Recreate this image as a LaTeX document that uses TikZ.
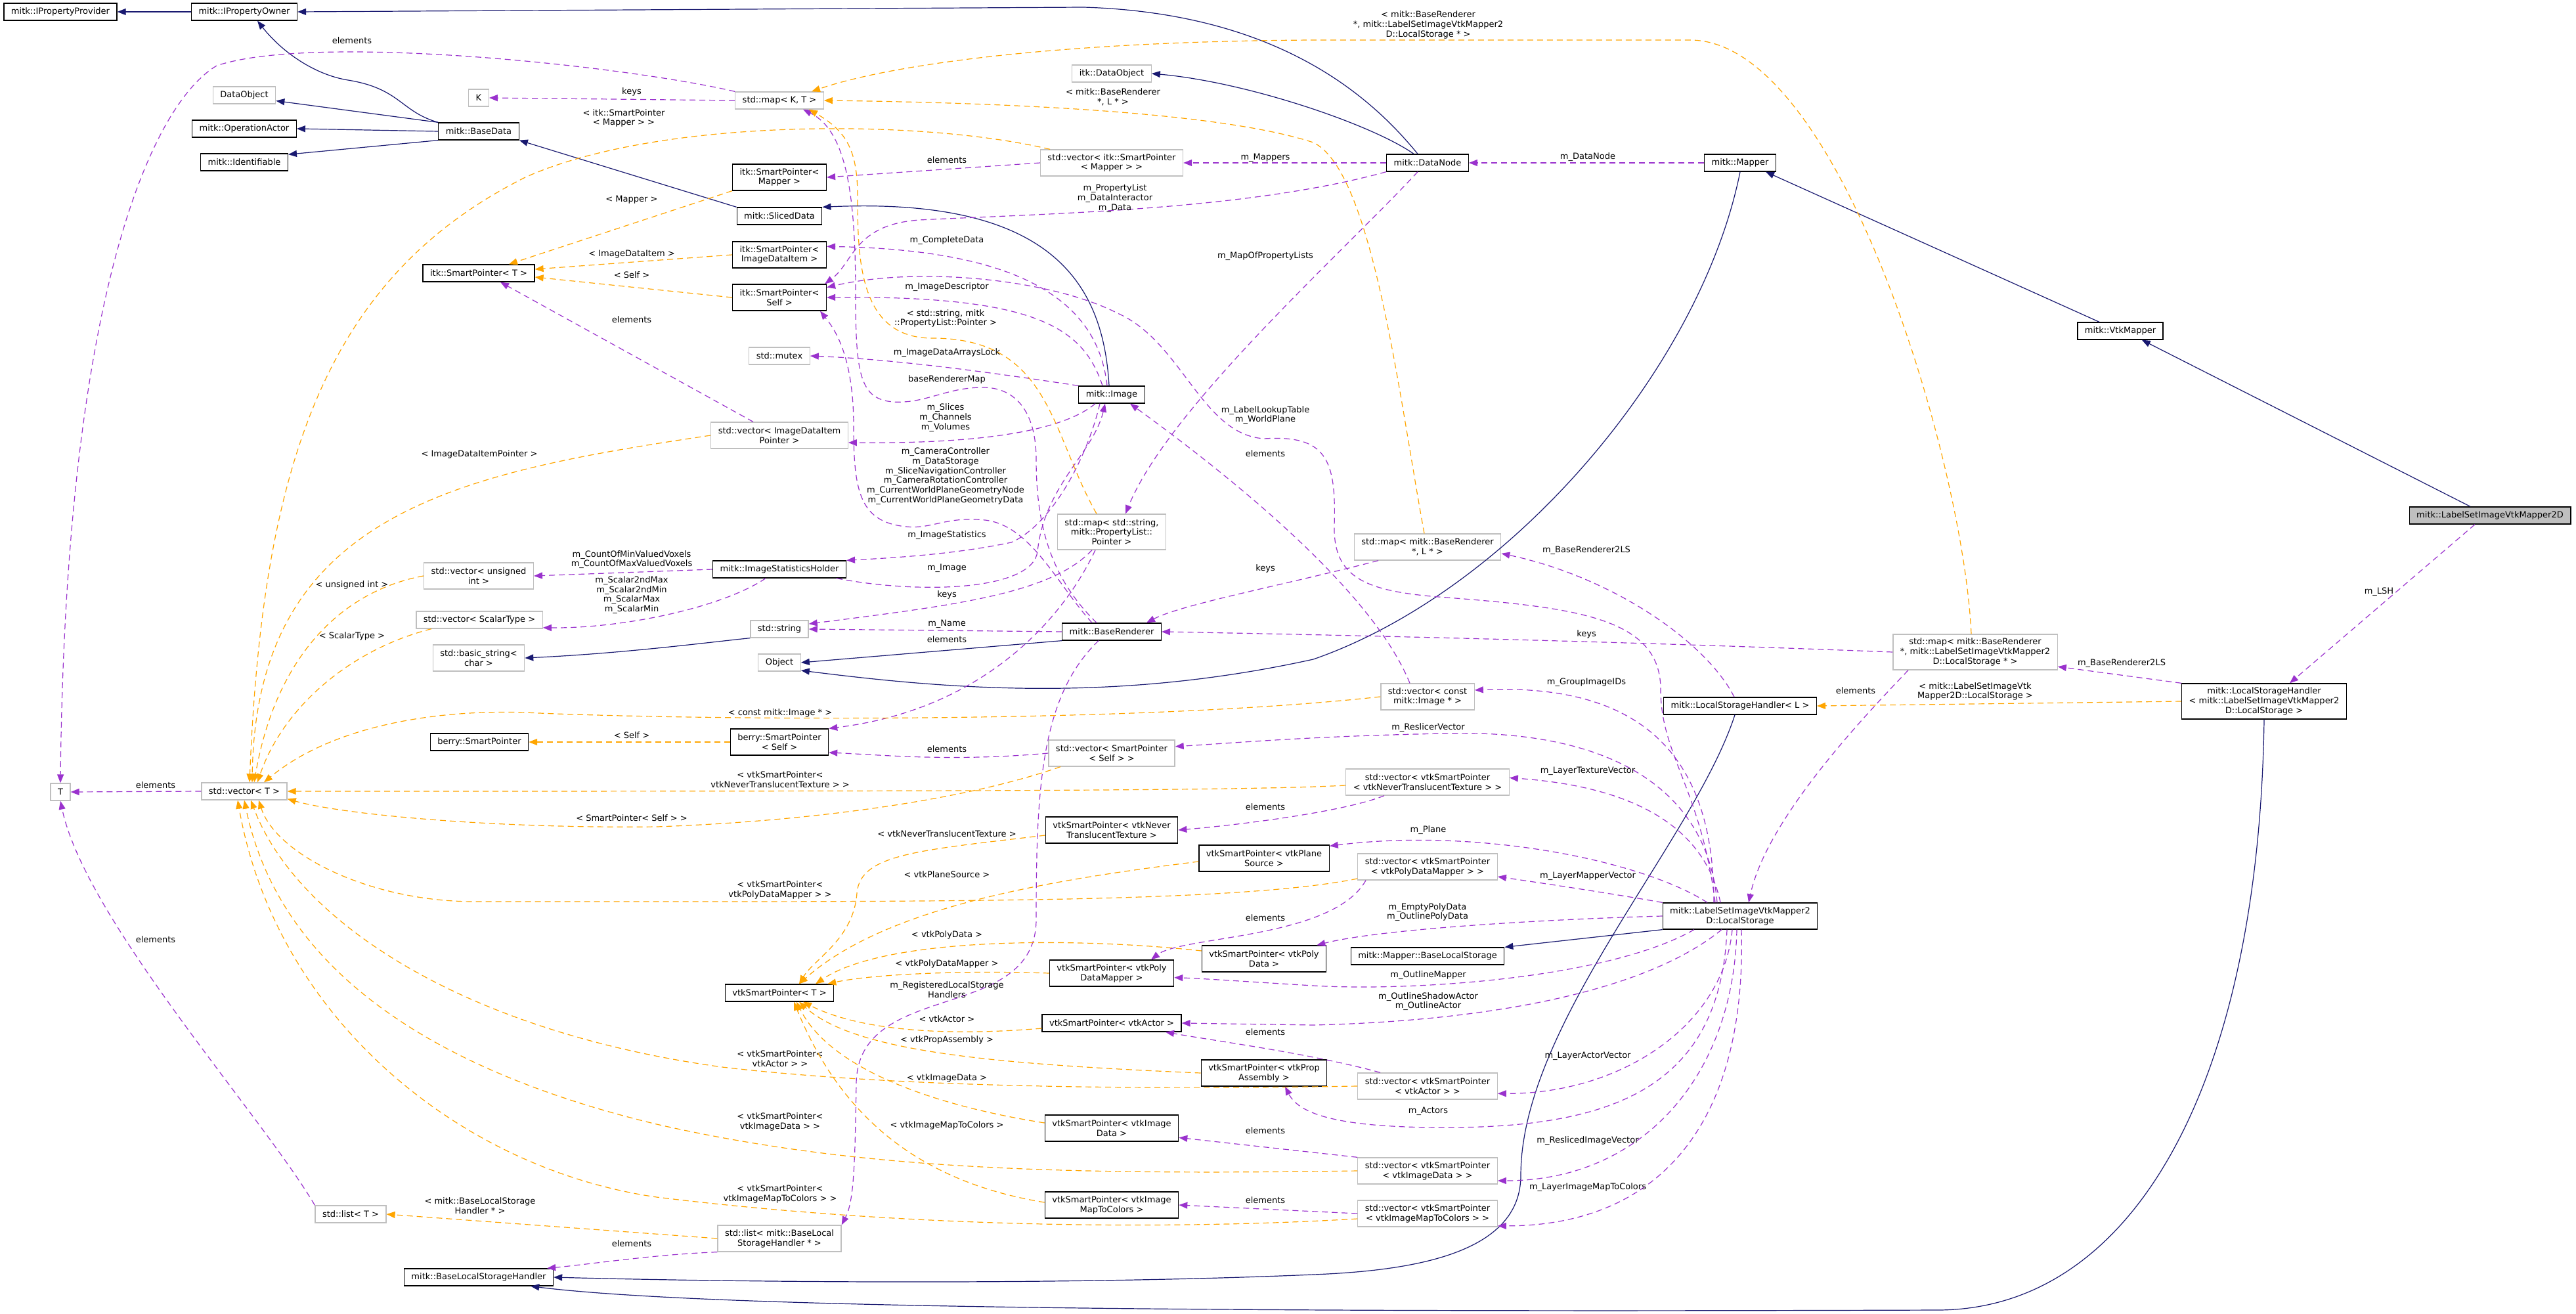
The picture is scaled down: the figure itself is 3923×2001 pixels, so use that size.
\documentclass[tikz,border=0pt]{standalone}
\usepackage{fontspec}
\setmainfont{DejaVu Sans}
\usepackage{tikz}
\usetikzlibrary{arrows.meta}

\definecolor{inhblue}{HTML}{191970}
\definecolor{usepurple}{HTML}{9A32CD}
\definecolor{tmplorange}{HTML}{FFA500}
\definecolor{boxgrey}{HTML}{BFBFBF}

\begin{document}
\begin{tikzpicture}[
    x=1pt, y=-1pt,
    font=\fontsize{13}{14.8}\selectfont,
    box/.style={rectangle, draw=black, line width=1.3pt, fill=white, align=center, inner xsep=11pt, inner ysep=3pt, minimum height=26pt},
    greybox/.style={box, draw=boxgrey},
    tall2/.style={minimum height=40pt},
    tall3/.style={minimum height=54pt},
    lbl/.style={align=center, inner sep=0pt},
    inh/.style={draw=inhblue, line width=1.2pt, -{Triangle[length=13pt, width=10pt]}},
    usage/.style={draw=usepurple, line width=1.2pt, dash pattern=on 9pt off 6pt, -{Triangle[length=13pt, width=10pt]}},
    tmpl/.style={draw=tmplorange, line width=1.2pt, dash pattern=on 9pt off 6pt, -{Triangle[length=13pt, width=10pt]}},
]
\useasboundingbox (0,0) rectangle (3923,2001);

% Column 1
\node[box] (ipp) at (92,18) {mitk::IPropertyProvider};
\node[greybox] (nodeT) at (92,1206) {T};

% Column 2
\node[box] (ipo) at (372,18) {mitk::IPropertyOwner};
\node[greybox] (dobj) at (372,145) {DataObject};
\node[box] (opact) at (372,196) {mitk::OperationActor};
\node[box] (ident) at (372,247) {mitk::Identifiable};
\node[greybox] (vecT) at (372,1205) {std::vector< T >};
\node[greybox] (listT) at (534,1849) {std::list< T >};

% Column 3
\node[greybox] (keyK) at (729,149) {K};
\node[box] (basedata) at (729,200) {mitk::BaseData};
\node[box] (itksp) at (729,416) {itk::SmartPointer< T >};
\node[greybox, tall2] (vecuint) at (729,877) {std::vector< unsigned\\int >};
\node[greybox] (vecscalar) at (730,944) {std::vector< ScalarType >};
\node[greybox, tall2] (bstring) at (729,1002) {std::basic\_string<\\char >};
\node[box] (berrysp) at (730,1130) {berry::SmartPointer};
\node[box] (blsh) at (729,1945) {mitk::BaseLocalStorageHandler};

% Column 4
\node[greybox] (mapKT) at (1187,153) {std::map< K, T >};
\node[box, tall2] (spmapper) at (1187,270) {itk::SmartPointer<\\Mapper >};
\node[box] (sliced) at (1187,329) {mitk::SlicedData};
\node[box, tall2] (spitem) at (1187,388) {itk::SmartPointer<\\ImageDataItem >};
\node[box, tall2] (spself) at (1187,453) {itk::SmartPointer<\\Self >};
\node[greybox] (mutex) at (1187,542) {std::mutex};
\node[greybox, tall2] (vecitem) at (1187,663) {std::vector< ImageDataItem\\Pointer >};
\node[box] (statholder) at (1187,867) {mitk::ImageStatisticsHolder};
\node[greybox] (stdstring) at (1187,958) {std::string};
\node[greybox] (object) at (1187,1009) {Object};
\node[box, tall2] (berryself) at (1187,1130) {berry::SmartPointer\\< Self >};
\node[box] (vtkT) at (1187,1512) {vtkSmartPointer< T >};
\node[greybox, tall2] (listblsh) at (1187,1886) {std::list< mitk::BaseLocal\\StorageHandler * >};

% Column 5
\node[greybox] (itkdobj) at (1693,112) {itk::DataObject};
\node[greybox, tall2] (vecmapper) at (1693,248) {std::vector< itk::SmartPointer\\< Mapper > >};
\node[box] (image) at (1693,601) {mitk::Image};
\node[greybox, tall3] (mapprop) at (1693,810) {std::map< std::string,\\mitk::PropertyList::\\Pointer >};
\node[box] (renderer) at (1693,962) {mitk::BaseRenderer};
\node[greybox, tall2] (vecself) at (1693,1147) {std::vector< SmartPointer\\< Self > >};
\node[box, tall2] (vtktex) at (1693,1264) {vtkSmartPointer< vtkNever\\TranslucentTexture >};
\node[box, tall2] (vtkpdm) at (1693,1482) {vtkSmartPointer< vtkPoly\\DataMapper >};
\node[box] (vtkactor) at (1693,1558) {vtkSmartPointer< vtkActor >};
\node[box, tall2] (vtkimg) at (1693,1718) {vtkSmartPointer< vtkImage\\Data >};
\node[box, tall2] (vtkmap) at (1693,1835) {vtkSmartPointer< vtkImage\\MapToColors >};
\node[box, tall2] (vtkplane) at (1925,1307) {vtkSmartPointer< vtkPlane\\Source >};
\node[box, tall2] (vtkpd) at (1925,1460) {vtkSmartPointer< vtkPoly\\Data >};
\node[box, tall2] (vtkprop) at (1925,1634) {vtkSmartPointer< vtkProp\\Assembly >};

% Column 6
\node[box] (datanode) at (2174,248) {mitk::DataNode};
\node[greybox, tall2] (maprl) at (2174,833) {std::map< mitk::BaseRenderer\\*, L * >};
\node[greybox, tall2] (vecimg) at (2174,1061) {std::vector< const\\mitk::Image * >};
\node[greybox, tall2] (vectex) at (2174,1191) {std::vector< vtkSmartPointer\\< vtkNeverTranslucentTexture > >};
\node[greybox, tall2] (vecpdm) at (2174,1320) {std::vector< vtkSmartPointer\\< vtkPolyDataMapper > >};
\node[box] (basels) at (2174,1456) {mitk::Mapper::BaseLocalStorage};
\node[greybox, tall2] (vecactor) at (2174,1654) {std::vector< vtkSmartPointer\\< vtkActor > >};
\node[greybox, tall2] (vecimgdata) at (2174,1783) {std::vector< vtkSmartPointer\\< vtkImageData > >};
\node[greybox, tall2] (vecmap) at (2174,1848) {std::vector< vtkSmartPointer\\< vtkImageMapToColors > >};

% Column 7
\node[box] (mapper) at (2650,248) {mitk::Mapper};
\node[box] (lshL) at (2650,1075) {mitk::LocalStorageHandler< L >};
\node[box, tall2] (storage) at (2650,1395) {mitk::LabelSetImageVtkMapper2\\D::LocalStorage};

% Column 8
\node[greybox, tall3] (maprls) at (3008,993) {std::map< mitk::BaseRenderer\\*, mitk::LabelSetImageVtkMapper2\\D::LocalStorage * >};
\node[box] (vtkmapper) at (3229,504) {mitk::VtkMapper};
\node[box, tall3] (lshLS) at (3448,1068) {mitk::LocalStorageHandler\\< mitk::LabelSetImageVtkMapper2\\D::LocalStorage >};
\node[box, fill=boxgrey] (lsmapper) at (3792,785) {mitk::LabelSetImageVtkMapper2D};

% Inheritance
\draw[inh] (ipo.west) -- (ipp.east);
\draw[inh] (basedata.north west) .. controls (610,170) and (610,135) .. (530,122) .. controls (480,114) and (430,80) .. ([xshift=20pt]ipo.south);
\draw[inh] (basedata.north west) -- (dobj.-10);
\draw[inh] (basedata.west) -- (opact.east);
\draw[inh] (basedata.south west) -- (ident.10);
\draw[inh] (sliced.north west) -- (basedata.south east);
\draw[inh] ([xshift=-4pt]image.north) .. controls (1680,430) and (1600,300) .. (sliced.north east);
\draw[inh] ([xshift=-15pt]datanode.north) .. controls (2090,150) and (1950,20) .. (1650,11) -- (ipo.east);
\draw[inh] ([xshift=-21pt]datanode.north) .. controls (2090,190) and (1900,125) .. (itkdobj.east);
\draw[inh] (stdstring.south west) .. controls (1080,978) and (950,995) .. (bstring.east);
\draw[inh] (renderer.south west) -- (object.east);
\draw[inh] (mapper.south) .. controls (2590,560) and (2300,900) .. (2000,1004) .. controls (1700,1070) and (1450,1050) .. (object.-20);
\draw[inh] ([xshift=-32pt]vtkmapper.north) -- ([xshift=-16pt]mapper.south east);
\draw[inh] ([xshift=-30pt]lsmapper.north) -- ([xshift=-33pt]vtkmapper.south east);
\draw[inh] (storage.south west) -- (basels.north east);
\draw[inh] ([xshift=-8pt]lshL.south) .. controls (2580,1280) and (2316,1560) .. (2316,1790) .. controls (2316,1910) and (2150,1935) .. (2000,1941) .. controls (1600,1958) and (1100,1952) .. (blsh.east);
\draw[inh] (lshLS.south) .. controls (3440,1650) and (3250,1995) .. (2950,1995) .. controls (2000,1998) and (1100,1995) .. ([xshift=-35pt]blsh.south east);

% Usage
\draw[usage] (mapKT.north west) .. controls (950,100) and (480,50) .. (330,100) .. controls (230,160) and (100,450) .. (nodeT.north) node[lbl] at (536,62) {elements};
\draw[usage] (mapKT.west) -- (keyK.east) node[lbl] at (962,140) {keys};
\draw[usage] (vecT.west) -- (nodeT.east) node[lbl] at (237,1196) {elements};
\draw[usage] (listT.north west) .. controls (400,1700) and (130,1400) .. (nodeT.south) node[lbl] at (237,1431) {elements};
\draw[usage] ([xshift=-40pt]vecitem.north) -- ([xshift=33pt]itksp.south) node[lbl] at (962,487) {elements};
\draw[usage] (vecmapper.west) -- (spmapper.east) node[lbl] at (1442,244) {elements};
\draw[usage] (datanode.west) -- (vecmapper.east) node[lbl] at (1927,240) {m\_Mappers};
\draw[usage] (mapper.west) -- (datanode.east) node[lbl] at (2418,239) {m\_DataNode};
\draw[usage] (datanode.south west) .. controls (1900,320) and (1600,325) .. (1400,335) .. controls (1300,342) and (1300,400) .. ([xshift=-3pt]spself.north east) node[lbl] at (1698,302) {m\_PropertyList\\m\_DataInteractor\\m\_Data};
\draw[usage] ([xshift=-7pt]image.north) .. controls (1670,440) and (1520,380) .. (spitem.10) node[lbl] at (1442,366) {m\_CompleteData};
\draw[usage] ([xshift=-14pt]image.north) .. controls (1650,500) and (1580,450) .. (spself.east) node[lbl] at (1442,437) {m\_ImageDescriptor};
\draw[usage] (image.north west) .. controls (1540,572) and (1380,548) .. (mutex.east) node[lbl] at (1442,537) {m\_ImageDataArraysLock};
\draw[usage] ([xshift=-25pt]image.south) .. controls (1620,655) and (1500,676) .. (vecitem.-6) node[lbl] at (1440,636) {m\_Slices\\m\_Channels\\m\_Volumes};
\draw[usage] ([xshift=-18pt]image.south) .. controls (1655,700) and (1600,800) .. (1540,826) .. controls (1450,845) and (1350,850) .. (statholder.north east) node[lbl] at (1442,815) {m\_ImageStatistics};
\draw[usage] ([xshift=87pt]statholder.south) .. controls (1400,905) and (1572,900) .. (1580,840) .. controls (1590,740) and (1665,690) .. ([xshift=-10pt]image.south) node[lbl] at (1442,865) {m\_Image};
\draw[usage] (statholder.west) -- (vecuint.east) node[lbl] at (962,852) {m\_CountOfMinValuedVoxels\\m\_CountOfMaxValuedVoxels};
\draw[usage] ([xshift=-21pt]statholder.south) .. controls (1100,925) and (950,957) .. (vecscalar.-7) node[lbl] at (962,906) {m\_Scalar2ndMax\\m\_Scalar2ndMin\\m\_ScalarMax\\m\_ScalarMin};
\draw[usage] (renderer.west) -- (stdstring.east) node[lbl] at (1442,950) {m\_Name};
\draw[usage] ([xshift=-30pt]mapprop.south) .. controls (1600,905) and (1450,922) .. (stdstring.10) node[lbl] at (1442,906) {keys};
\draw[usage] ([xshift=-25pt]mapprop.south) .. controls (1620,940) and (1500,1080) .. (berryself.north east) node[lbl] at (1442,974) {elements};
\draw[usage] ([xshift=-15pt]datanode.south) .. controls (2050,380) and (1780,620) .. ([xshift=21pt]mapprop.north) node[lbl] at (1927,390) {m\_MapOfPropertyLists};
\draw[usage] ([xshift=-27pt]vecimg.north) .. controls (2090,900) and (1880,730) .. ([xshift=28pt]image.south) node[lbl] at (1927,691) {elements};
\draw[usage] ([xshift=-75pt]maprl.south) .. controls (1960,890) and (1800,920) .. ([xshift=53pt]renderer.north) node[lbl] at (1927,866) {keys};
\draw[usage] (maprls.west) .. controls (2500,978) and (2100,968) .. (renderer.east) node[lbl] at (2416,966) {keys};
\draw[usage] ([xshift=-9pt]lshL.north) .. controls (2600,980) and (2460,880) .. (maprl.-5) node[lbl] at (2416,838) {m\_BaseRenderer2LS};
\draw[usage] (lshLS.north west) -- (maprls.-10) node[lbl] at (3231,1010) {m\_BaseRenderer2LS};
\draw[usage] ([xshift=-23pt]lsmapper.south) -- ([xshift=39pt]lshLS.north) node[lbl] at (3623,901) {m\_LSH};
\draw[usage] ([xshift=-102pt]maprls.south) .. controls (2830,1100) and (2690,1250) .. ([xshift=13pt]storage.north) node[lbl] at (2826,1052) {elements};
\draw[usage] ([xshift=-20pt]renderer.south) .. controls (1585,1060) and (1578,1200) .. (1578,1400) .. controls (1578,1560) and (1306,1490) .. (1304,1650) .. controls (1302,1780) and (1300,1830) .. (listblsh.north east) node[lbl] at (1442,1507) {m\_RegisteredLocalStorage\\Handlers};
\draw[usage] (listblsh.south west) .. controls (1000,1910) and (900,1925) .. ([xshift=-10pt]blsh.north east) node[lbl] at (962,1894) {elements};
\draw[usage] (vecself.west) .. controls (1450,1160) and (1350,1150) .. (berryself.-12) node[lbl] at (1442,1141) {elements};
\draw[usage] ([xshift=-40pt]storage.north) .. controls (2610,1150) and (2500,1040) .. (vecimg.8) node[lbl] at (2416,1039) {m\_GroupImageIDs};
\draw[usage] ([xshift=-35pt]storage.north) .. controls (2600,1200) and (2450,1110) .. (2200,1117) .. controls (2000,1121) and (1900,1130) .. (vecself.6) node[lbl] at (2175,1108) {m\_ReslicerVector};
\draw[usage] ([xshift=-30pt]storage.north) .. controls (2600,1280) and (2520,1200) .. (vectex.3) node[lbl] at (2418,1174) {m\_LayerTextureVector};
\draw[usage] ([xshift=-50pt]storage.north) .. controls (2500,1310) and (2250,1260) .. ([yshift=-2pt]vtkplane.north east) node[lbl] at (2175,1264) {m\_Plane};
\draw[usage] (storage.north west) .. controls (2450,1360) and (2350,1345) .. (vecpdm.-8) node[lbl] at (2418,1334) {m\_LayerMapperVector};
\draw[usage] (storage.west) .. controls (2350,1400) and (2100,1415) .. ([xshift=-15pt]vtkpd.north east) node[lbl] at (2174,1389) {m\_EmptyPolyData\\m\_OutlinePolyData};
\draw[usage] ([xshift=-70pt]storage.south) .. controls (2450,1490) and (2150,1510) .. (2000,1501) .. controls (1900,1495) and (1830,1490) .. (vtkpdm.-4) node[lbl] at (2175,1485) {m\_OutlineMapper};
\draw[usage] ([xshift=-28pt]storage.south) .. controls (2500,1515) and (2250,1555) .. (2000,1561) -- (vtkactor.east) node[lbl] at (2175,1525) {m\_OutlineShadowActor\\m\_OutlineActor};
\draw[usage] ([xshift=-20pt]storage.south) .. controls (2620,1660) and (2450,1717) .. (2200,1717) .. controls (2050,1717) and (1980,1700) .. ([xshift=32pt]vtkprop.south) node[lbl] at (2175,1692) {m\_Actors};
\draw[usage] ([xshift=-12pt]storage.south) .. controls (2625,1560) and (2470,1666) .. (vecactor.-6) node[lbl] at (2418,1608) {m\_LayerActorVector};
\draw[usage] ([xshift=-5pt]storage.south) .. controls (2640,1640) and (2500,1798) .. (vecimgdata.-8) node[lbl] at (2418,1737) {m\_ReslicedImageVector};
\draw[usage] ([xshift=2pt]storage.south) .. controls (2660,1720) and (2520,1867) .. (vecmap.-10) node[lbl] at (2418,1808) {m\_LayerImageMapToColors};
\draw[usage] ([xshift=-72pt]vecactor.north) .. controls (2000,1605) and (1850,1585) .. ([xshift=82pt]vtkactor.south) node[lbl] at (1927,1572) {elements};
\draw[usage] (vecimgdata.north west) -- (vtkimg.-8) node[lbl] at (1927,1722) {elements};
\draw[usage] (vecmap.west) -- (vtkmap.east) node[lbl] at (1927,1828) {elements};
\draw[usage] ([xshift=-66pt]vectex.south) .. controls (2050,1235) and (1900,1255) .. (vtktex.east) node[lbl] at (1927,1229) {elements};
\draw[usage] ([xshift=-94pt]vecpdm.south) .. controls (2030,1430) and (1800,1425) .. ([xshift=60pt]vtkpdm.north) node[lbl] at (1927,1398) {elements};
\draw[usage] ([xshift=-38pt]storage.north) .. controls (2590,1200) and (2529,1150) .. (2529,1050) .. controls (2529,940) and (2400,925) .. (2191,909) .. controls (2080,900) and (2030,880) .. (2032,800) .. controls (2035,700) and (2020,662) .. (1925,668) .. controls (1830,662) and (1800,520) .. (1702,477) .. controls (1600,425) and (1400,405) .. (spself.12) node[lbl] at (1927,632) {m\_LabelLookupTable\\m\_WorldPlane};
\draw[usage] ([xshift=-23pt]renderer.north) .. controls (1600,880) and (1578,800) .. (1578,700) .. controls (1578,625) and (1545,590) .. (1497,590) .. controls (1440,590) and (1410,615) .. (1360,612) .. controls (1310,608) and (1303,570) .. (1303,450) .. controls (1303,300) and (1290,200) .. ([xshift=36pt]mapKT.south) node[lbl] at (1442,578) {baseRendererMap};
\draw[usage] ([xshift=-30pt]renderer.north) .. controls (1610,890) and (1570,800) .. (1500,792) .. controls (1440,786) and (1420,806) .. (1380,802) .. controls (1310,795) and (1300,750) .. (1300,650) .. controls (1300,540) and (1270,500) .. ([xshift=62pt]spself.south) node[lbl] at (1440,725) {m\_CameraController\\m\_DataStorage\\m\_SliceNavigationController\\m\_CameraRotationController\\m\_CurrentWorldPlaneGeometryNode\\m\_CurrentWorldPlaneGeometryData};

% Template instances
\draw[tmpl] ([xshift=-94pt]vecmapper.north) .. controls (1400,180) and (1000,180) .. (800,270) .. controls (500,420) and (400,700) .. ([xshift=8pt]vecT.north) node[lbl] at (950,180) {< itk::SmartPointer\\< Mapper > >};
\draw[tmpl] (vecitem.west) .. controls (700,720) and (390,780) .. ([xshift=12pt]vecT.north) node[lbl] at (730,692) {< ImageDataItemPointer >};
\draw[tmpl] (vecuint.west) .. controls (520,900) and (420,1000) .. ([xshift=15pt]vecT.north) node[lbl] at (536,891) {< unsigned int >};
\draw[tmpl] ([xshift=-73pt]vecscalar.south) .. controls (530,990) and (430,1080) .. ([xshift=20pt]vecT.north) node[lbl] at (536,969) {< ScalarType >};
\draw[tmpl] (vecimg.west) .. controls (1700,1105) and (1000,1095) .. (800,1085) .. controls (650,1080) and (500,1110) .. ([xshift=30pt]vecT.north) node[lbl] at (1188,1086) {< const mitk::Image * >};
\draw[tmpl] ([xshift=-78pt]vecself.south) .. controls (1450,1225) and (1200,1252) .. (1000,1259) .. controls (750,1262) and (520,1240) .. (vecT.-10) node[lbl] at (962,1246) {< SmartPointer< Self > >};
\draw[tmpl] ([yshift=-5pt]vectex.west) .. controls (1900,1204) and (1500,1205) .. (vecT.east) node[lbl] at (1188,1187) {< vtkSmartPointer<\\vtkNeverTranslucentTexture > >};
\draw[tmpl] ([yshift=-18pt]vecpdm.west) .. controls (1900,1372) and (1500,1373) .. (1000,1373) -- (720,1373) .. controls (560,1372) and (420,1300) .. ([xshift=22pt]vecT.south) node[lbl] at (1188,1355) {< vtkSmartPointer<\\vtkPolyDataMapper > >};
\draw[tmpl] (vecactor.west) .. controls (1800,1658) and (1400,1660) .. (1100,1625) .. controls (700,1570) and (450,1400) .. ([xshift=10pt]vecT.south) node[lbl] at (1188,1612) {< vtkSmartPointer<\\vtkActor > >};
\draw[tmpl] (vecimgdata.west) .. controls (1600,1790) and (1300,1780) .. (1000,1712) .. controls (700,1640) and (430,1500) .. (vecT.south) node[lbl] at (1188,1708) {< vtkSmartPointer<\\vtkImageData > >};
\draw[tmpl] ([yshift=-8pt]vecmap.west) .. controls (1800,1872) and (1400,1872) .. (1000,1823) .. controls (700,1780) and (420,1550) .. ([xshift=-10pt]vecT.south) node[lbl] at (1188,1818) {< vtkSmartPointer<\\vtkImageMapToColors > >};
\draw[tmpl] (listblsh.west) -- (listT.east) node[lbl] at (731,1836) {< mitk::BaseLocalStorage\\Handler * >};
\draw[tmpl] (spmapper.south west) -- ([xshift=46pt]itksp.north) node[lbl] at (962,304) {< Mapper >};
\draw[tmpl] (spitem.west) -- (itksp.4) node[lbl] at (962,387) {< ImageDataItem >};
\draw[tmpl] (spself.west) -- (itksp.-4) node[lbl] at (962,419) {< Self >};
\draw[tmpl] (berryself.west) -- (berrysp.east) node[lbl] at (962,1120) {< Self >};
\draw[tmpl] ([yshift=-8pt]vtktex.west) .. controls (1400,1295) and (1310,1300) .. (1305,1360) .. controls (1300,1430) and (1240,1460) .. ([xshift=30pt]vtkT.north) node[lbl] at (1442,1270) {< vtkNeverTranslucentTexture >};
\draw[tmpl] ([yshift=-5pt]vtkplane.west) .. controls (1600,1340) and (1350,1380) .. ([xshift=30pt]vtkT.north) node[lbl] at (1442,1332) {< vtkPlaneSource >};
\draw[tmpl] ([yshift=12pt]vtkpd.west) .. controls (1650,1428) and (1350,1425) .. ([xshift=55pt]vtkT.north) node[lbl] at (1442,1424) {< vtkPolyData >};
\draw[tmpl] (vtkpdm.west) .. controls (1450,1477) and (1320,1485) .. ([xshift=-10pt]vtkT.north east) node[lbl] at (1442,1468) {< vtkPolyDataMapper >};
\draw[tmpl] ([yshift=-8pt]vtkactor.west) .. controls (1420,1580) and (1300,1565) .. ([xshift=36pt]vtkT.south) node[lbl] at (1442,1552) {< vtkActor >};
\draw[tmpl] (vtkprop.west) .. controls (1500,1620) and (1300,1600) .. ([xshift=30pt]vtkT.south) node[lbl] at (1442,1584) {< vtkPropAssembly >};
\draw[tmpl] ([yshift=8pt]vtkimg.west) .. controls (1400,1680) and (1260,1620) .. ([xshift=26pt]vtkT.south) node[lbl] at (1442,1642) {< vtkImageData >};
\draw[tmpl] ([yshift=4pt]vtkmap.west) .. controls (1400,1800) and (1280,1700) .. ([xshift=22pt]vtkT.south) node[lbl] at (1442,1714) {< vtkImageMapToColors >};
\draw[tmpl] ([xshift=-6pt]maprls.north) .. controls (2990,700) and (2800,61) .. (2574,61) -- (2000,61) .. controls (1600,63) and (1350,100) .. ([xshift=49pt]mapKT.north) node[lbl] at (2175,38) {< mitk::BaseRenderer\\*, mitk::LabelSetImageVtkMapper2\\D::LocalStorage * >};
\draw[tmpl] ([xshift=-5pt]maprl.north) .. controls (2130,600) and (2090,260) .. (2000,217) .. controls (1850,168) and (1500,156) .. (mapKT.east) node[lbl] at (1695,148) {< mitk::BaseRenderer\\*, L * >};
\draw[tmpl] (lshLS.west) -- (lshL.east) node[lbl] at (3008,1053) {< mitk::LabelSetImageVtk\\Mapper2D::LocalStorage >};
\draw[tmpl] ([xshift=-23pt]mapprop.north) .. controls (1600,660) and (1600,515) .. (1420,515) .. controls (1310,515) and (1306,400) .. (1306,300) .. controls (1306,230) and (1290,200) .. ([xshift=45pt]mapKT.south) node[lbl] at (1440,485) {< std::string, mitk\\::PropertyList::Pointer >};
\end{tikzpicture}
\end{document}
